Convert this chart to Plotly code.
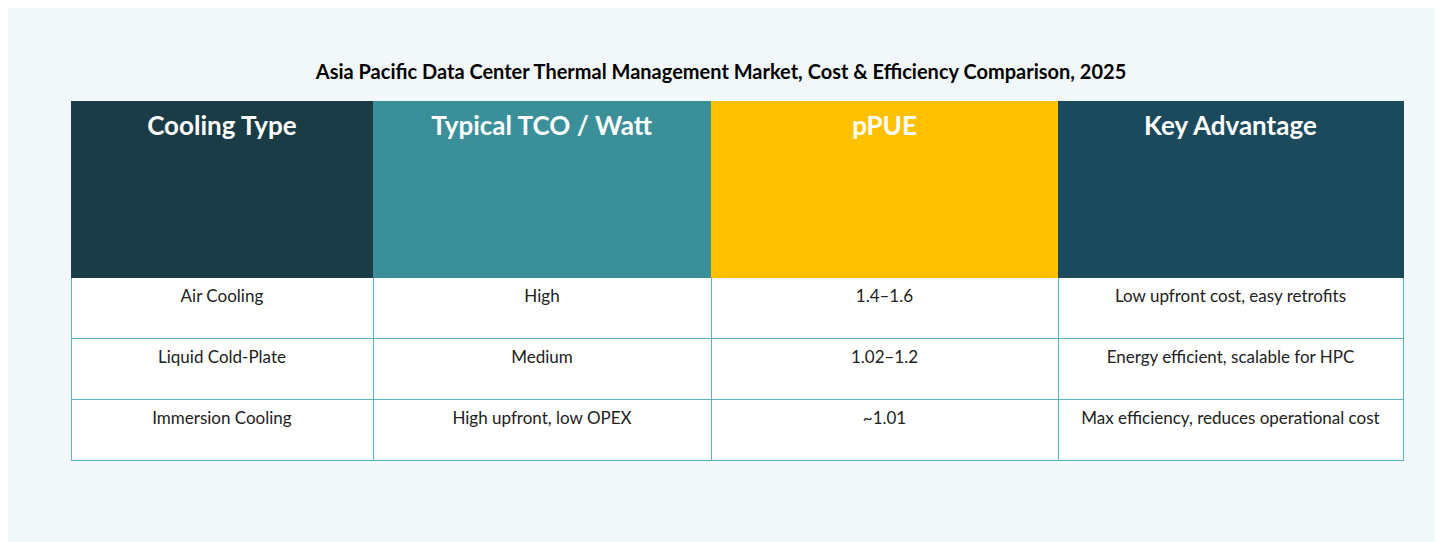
import plotly.graph_objects as go

headers = ["Cooling Type", "Typical TCO / Watt", "pPUE", "Key Advantage"]
cooling_type = ["Air Cooling", "Liquid Cold-Plate", "Immersion Cooling"]
tco_watt = ["High", "Medium", "High upfront, low OPEX"]
ppue = ["1.4–1.6", "1.02–1.2", "~1.01"]
advantage = ["Low upfront cost, easy retrofits", "Energy efficient, scalable for HPC",
             "Max efficiency, reduces operational cost"]

header_colors = ["#1a3c47", "#3b8f99", "#ffc000", "#1b4a5c"]
W, H = 1443, 542
OX, OY = 8, 8

fig = go.Figure(go.Table(
    domain=dict(x=[(71-OX)/W, (1403-OX)/W], y=[1-(462-OY)/H, 1-(101-OY)/H]),
    columnwidth=[302, 338, 347, 345],
    header=dict(values=["\u200b<br>\u200b<br><b>%s</b>" % h for h in headers],
                fill_color=header_colors, line_color=header_colors,
                font=dict(family="Lato", size=26, color="white"),
                align="center", height=176),
    cells=dict(values=[["<span style='font-size:4px'>\u200b</span><br>" + v for v in col]
                       for col in [cooling_type, tco_watt, ppue, advantage]],
               fill_color="white", line_color="#5bb5bf",
               font=dict(family="Lato", size=17, color="#222222"),
               align="center", height=61),
))
fig.update_layout(
    width=W, height=H, margin=dict(l=0, r=0, t=0, b=0),
    paper_bgcolor="#f2f8f9",
    title=dict(text="<b>Asia Pacific Data Center Thermal Management Market, Cost &amp; Efficiency Comparison, 2025</b>",
               x=(721-OX)/W, xanchor="center", y=1-(72-OY)/H, yanchor="middle",
               font=dict(family="Lato", size=20, color="black")),
)
fig.write_html("out.html")
